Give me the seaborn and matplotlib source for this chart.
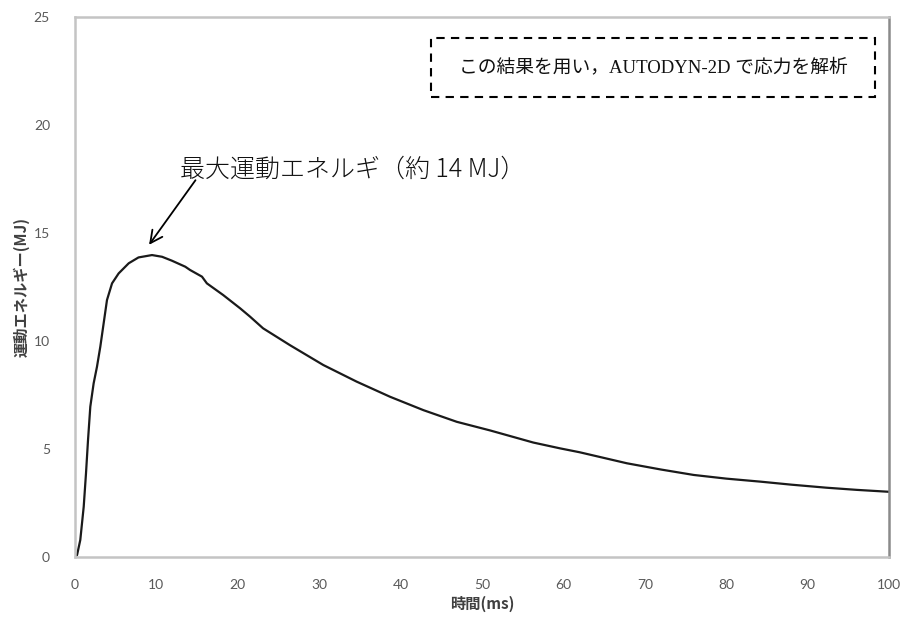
import matplotlib
matplotlib.use("Agg")
import matplotlib.pyplot as plt
from matplotlib.patches import Rectangle
import seaborn as sns
import pandas as pd

# Kinetic energy history (time in ms, energy in MJ)
time_ms = [0, 0.25, 0.65, 1.07, 1.35, 1.6, 1.88, 2.29, 2.7, 3.11, 3.52, 3.93,
           4.55, 5.36, 6.6, 7.8, 9.46, 10.7, 11.9, 13.55, 14.13, 15.6, 16.2,
           18.2, 20.3, 21.5, 23.1, 26.4, 30.5, 34.6, 38.7, 42.8, 46.9, 51.0,
           56.3, 59.6, 62.0, 67.8, 72.0, 76.0, 80.0, 84.2, 88.0, 92.3, 96.0,
           100.0]
energy_mj = [0, 0.09, 0.79, 2.33, 3.87, 5.42, 6.96, 8.04, 8.81, 9.74, 10.82,
             11.9, 12.67, 13.13, 13.6, 13.87, 13.98, 13.9, 13.72, 13.44,
             13.29, 12.98, 12.67, 12.13, 11.51, 11.13, 10.59, 9.81, 8.89,
             8.12, 7.42, 6.8, 6.26, 5.86, 5.3, 5.03, 4.85, 4.34, 4.05, 3.8,
             3.63, 3.49, 3.35, 3.21, 3.11, 3.02]

x_ticks = [0, 10, 20, 30, 40, 50, 60, 70, 80, 90, 100]
y_ticks = [0, 5, 10, 15, 20, 25]

peak_label = "最大運動エネルギ（約 14 MJ）"
note_label = "この結果を用い，AUTODYN-2D で応力を解析"
x_label = "時間(ms)"
y_label = "運動エネルギー(MJ)"

sns.set_theme(style="white")
plt.rcParams["font.family"] = ["Noto Sans CJK JP", "DejaVu Sans"]

df = pd.DataFrame({"t": time_ms, "E": energy_mj})

fig = plt.figure(figsize=(9.08, 6.17), dpi=100)
ax = fig.add_axes([0.0826, 0.0972, 0.8965, 0.8752])

sns.lineplot(data=df, x="t", y="E", ax=ax, color="#1a1a1a", linewidth=1.6)

ax.set_xlim(0, 100)
ax.set_ylim(0, 25)
ax.set_xticks(x_ticks)
ax.set_yticks(y_ticks)

for side in ["left", "bottom", "top"]:
    ax.spines[side].set_color("#c4c4c4")
    ax.spines[side].set_linewidth(1.8)
ax.spines["right"].set_color("#8a8a8a")
ax.spines["right"].set_linewidth(1.8)

ax.tick_params(axis="both", which="major", direction="out", length=4,
               width=1, color="#c4c4c4", labelcolor="#595959")
ax.tick_params(axis="y", pad=14, labelsize=10)
ax.tick_params(axis="x", pad=12, labelsize=10)
for lab in ax.get_xticklabels() + ax.get_yticklabels():
    lab.set_family(["Lato", "DejaVu Sans"])

ax.set_xlabel(x_label, fontsize=11, fontweight="bold", color="#404040", labelpad=3)
ax.set_ylabel(y_label, fontsize=11, fontweight="bold", color="#404040", labelpad=3)

# Peak annotation with open arrow
ax.annotate("", xy=(8.9, 14.35), xytext=(15.0, 17.55),
            arrowprops=dict(arrowstyle="->", color="black", lw=1.3,
                            mutation_scale=22))
ax.text(0.129, 0.718, peak_label, transform=ax.transAxes, fontsize=18,
        color="#111111", ha="left", va="center", fontweight="light")

# Dashed note box
box = Rectangle((0.437, 0.852), 0.546, 0.109, transform=ax.transAxes,
                fill=False, edgecolor="black", linewidth=1.5,
                linestyle=(0, (4, 3)))
ax.add_patch(box)
ax.text(0.71, 0.906, note_label, transform=ax.transAxes, fontsize=13.5,
        color="#111111", ha="center", va="center",
        family=["Liberation Serif", "Noto Sans CJK JP"])

fig.savefig("out.png", dpi=100)
